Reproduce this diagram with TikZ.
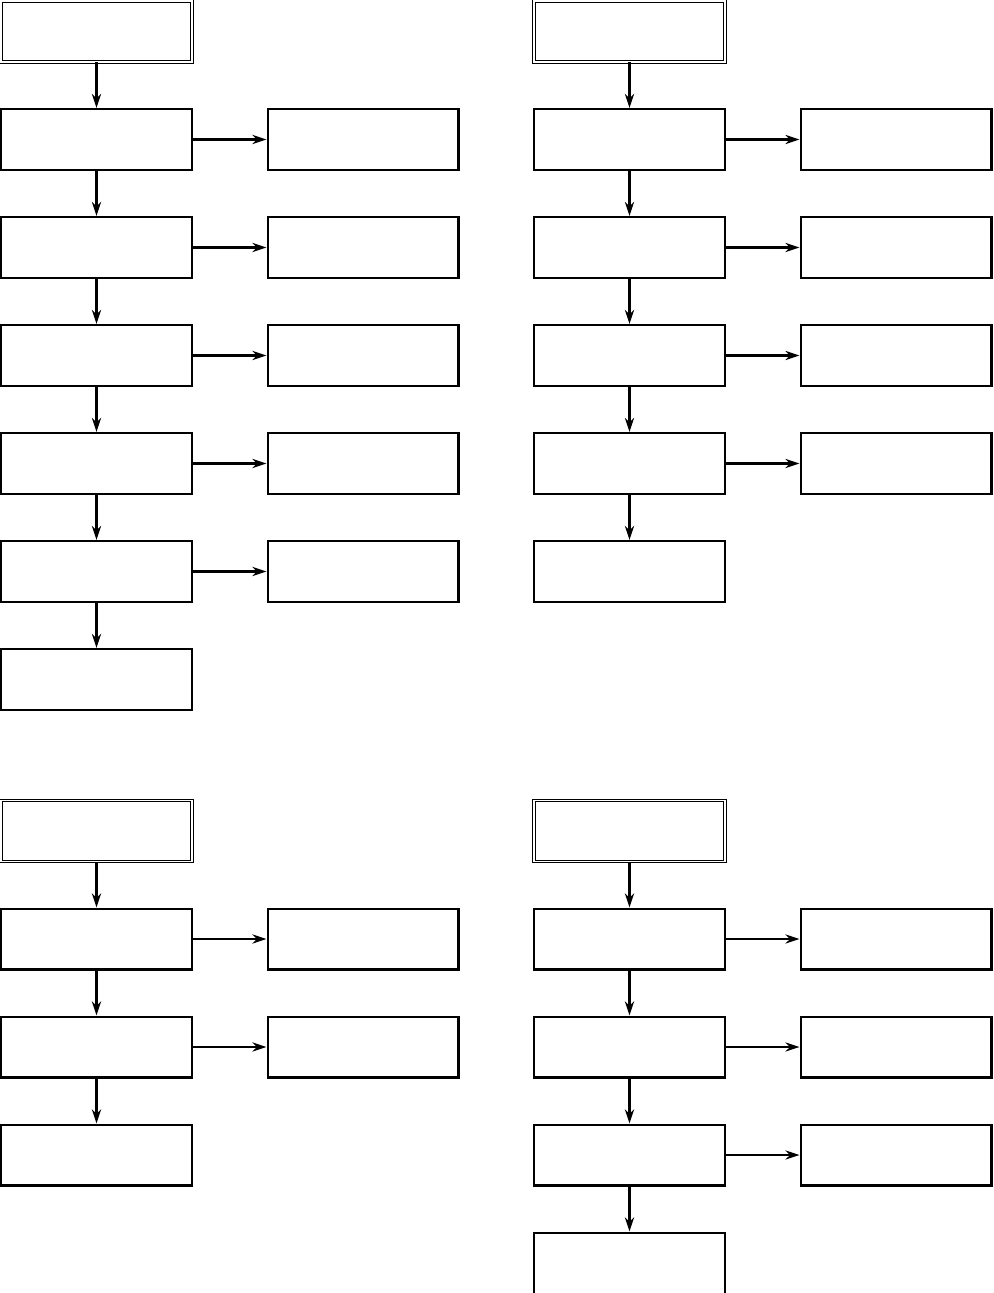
\documentclass[tikz,border=0pt]{standalone}
\usetikzlibrary{arrows.meta}

\tikzset{
  box/.style={draw, line width=1.15pt, minimum width=3.82cm, minimum height=1.22cm, inner sep=0pt},
  topbox/.style={box, double, line width=0.55pt, double distance=0.75pt},
  flow/.style={-{Stealth[length=8pt,width=5.2pt]}, line width=1.2pt},
}

\begin{document}
\begin{tikzpicture}[x=0.02cm,y=-0.02cm]
  \useasboundingbox (0,0) rectangle (993,1293);

  %% four flow charts: name / x / y / boxes below / side boxes
  \foreach \g/\gx/\gy/\n/\m in {a/96.5/31.5/6/5, b/629.5/31.5/5/4,
                                c/96.5/831/3/2, d/629.5/831/4/3}{
    \node[topbox] (\g0) at (\gx,\gy) {};
    %% main column
    \foreach \i in {1,...,\n}{
      \node[box] (\g\i) at (\gx,\gy+108*\i) {};
      \pgfmathtruncatemacro\j{\i-1}
      \draw[flow] (\g\j) -- (\g\i);
    }
    %% side boxes
    \foreach \i in {1,...,\m}{
      \node[box] (\g side\i) at (\gx+266.5,\gy+108*\i) {};
      \draw[flow] (\g\i) -- (\g side\i);
    }
  }
\end{tikzpicture}
\end{document}
